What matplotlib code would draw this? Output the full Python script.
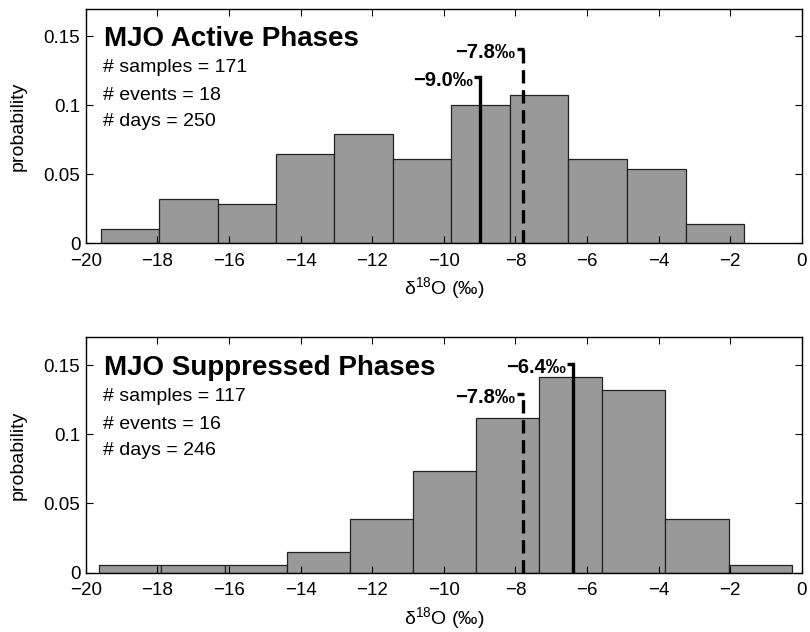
import numpy as np
import matplotlib
matplotlib.use("Agg")
import matplotlib.pyplot as plt

plt.rcParams["font.family"] = ["Liberation Sans", "DejaVu Sans"]
plt.rcParams["mathtext.default"] = "regular"

# histogram bin edges (per mil) and probability densities
active_edges = [-19.59, -17.96, -16.32, -14.69, -13.06, -11.42, -9.79,
                -8.16, -6.52, -4.88, -3.25, -1.61]
active_prob = [0.0104, 0.0321, 0.0285, 0.0645, 0.0790, 0.0609, 0.1004,
               0.1075, 0.0609, 0.0536, 0.0142]
active_stats = ["# samples = 171", "# events = 18", "# days = 250"]
active_solid = -9.0   # solid marker line
active_dash = -7.8    # dashed marker line
active_solid_top = 0.1205
active_dash_top = 0.1406

supp_edges = [-19.64, -17.89, -16.12, -14.37, -12.61, -10.85, -9.09,
              -7.33, -5.57, -3.81, -2.04, -0.28]
supp_prob = [0.0053, 0.0053, 0.0053, 0.0147, 0.0390, 0.0733, 0.1120,
             0.1412, 0.1318, 0.0390, 0.0053]
supp_stats = ["# samples = 117", "# events = 16", "# days = 246"]
supp_solid = -6.4
supp_dash = -7.8
supp_solid_top = 0.1506
supp_dash_top = 0.1290

xticks = np.arange(-20, 1, 2)
yticks = [0, 0.05, 0.1, 0.15]
ytick_labels = ["0", "0.05", "0.1", "0.15"]


def marker(ax, x, top, label, dashed):
    ls = dict(color="black", lw=2.4)
    if dashed:
        ax.plot([x, x], [0, top], dashes=(4, 2), **ls)
    else:
        ax.plot([x, x], [0, top], **ls)
    ax.plot([x - 0.17, x + 0.03], [top, top], color="black", lw=2.4,
            solid_capstyle="butt")
    ax.text(x - 0.2, top - 0.0025, label, ha="right", va="center",
            fontsize=14.5, fontweight="bold")


def panel(ax, edges, prob, title, stats, solid, solid_top, dash, dash_top,
          solid_lab, dash_lab):
    edges = np.asarray(edges)
    ax.bar(edges[:-1], prob, width=np.diff(edges), align="edge",
           color="#999999", edgecolor="#222222", linewidth=0.9)
    marker(ax, solid, solid_top, solid_lab, False)
    marker(ax, dash, dash_top, dash_lab, True)
    ax.text(-19.5, 0.1428, title, fontsize=20, fontweight="bold",
            va="baseline")
    for s, yy in zip(stats, [0.124, 0.104, 0.085]):
        ax.text(-19.53, yy, s, fontsize=14, va="baseline")
    ax.set_xlim(-20, 0)
    ax.set_ylim(0, 0.17)
    ax.set_xticks(xticks)
    ax.set_xticklabels([f"\u2212{abs(t)}" if t < 0 else f"{t}" for t in xticks])
    ax.set_yticks(yticks)
    ax.set_yticklabels(ytick_labels)
    ax.tick_params(direction="in", top=True, right=True, length=5,
                   width=0.8, labelsize=13.5)
    ax.tick_params(axis="x", pad=7)
    ax.tick_params(axis="y", pad=4)
    for sp in ax.spines.values():
        sp.set_linewidth(1.0)
    ax.set_ylabel("probability", fontsize=14)
    ax.yaxis.set_label_coords(-0.082, 0.5)
    ax.set_xlabel("\u03b4$^{18}$O (\u2030)", fontsize=14, labelpad=4)


fig = plt.figure(figsize=(8.1, 6.32), dpi=100)
ax1 = fig.add_axes([0.106, 0.615, 0.884, 0.371])
ax2 = fig.add_axes([0.106, 0.094, 0.884, 0.372])

panel(ax1, active_edges, active_prob, "MJO Active Phases", active_stats,
      active_solid, active_solid_top, active_dash, active_dash_top,
      "\u22129.0\u2030", "\u22127.8\u2030")
panel(ax2, supp_edges, supp_prob, "MJO Suppressed Phases", supp_stats,
      supp_solid, supp_solid_top, supp_dash, supp_dash_top,
      "\u22126.4\u2030", "\u22127.8\u2030")

fig.savefig("out.png", dpi=100)
